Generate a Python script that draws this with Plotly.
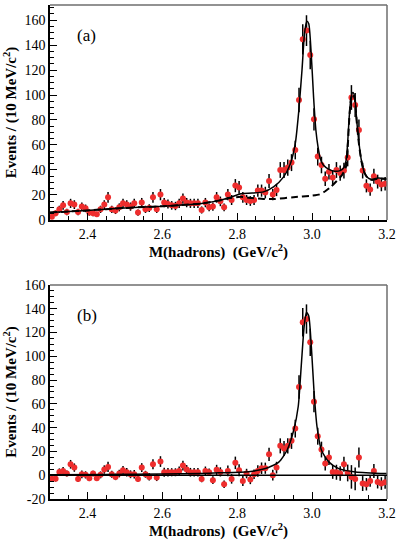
import numpy as np
import plotly.graph_objects as go

# 10 MeV bins from 2.30 to 3.20 GeV/c^2 (bin centres)
mass = np.round(np.arange(2.305, 3.2, 0.01), 3)

# (a) events per bin
events_a = [2.6, 5.3, 8.5, 11.7, 6.4, 13.3, 12.3, 6.4, 10.7, 9.3,
            5.9, 5.3, 4.5, 8.5, 12.3, 18.1, 8.5, 7.5, 10.1, 13.3,
            12.3, 10.7, 13.3, 5.9, 13.9, 8.5, 9.5, 18.1, 8.5, 20.3,
            13.9, 12.8, 11.7, 11.2, 13.3, 17.1, 13.9, 13.3, 13.3, 13.3,
            8.0, 13.9, 10.1, 10.7, 18.1, 14.9, 10.1, 20.3, 16.0, 27.5,
            26.0, 18.1, 16.0, 15.2, 16.0, 23.5, 23.5, 21.9, 31.2, 20.3,
            24.0, 40.0, 40.0, 41.9, 45.9, 56.0, 96.0, 144.5, 151.5, 132.0,
            80.5, 50.7, 44.0, 33.0, 38.5, 34.0, 40.0, 37.5, 39.5, 50.0,
            98.0, 92.0, 72.0, 39.5, 27.3, 24.3, 35.0, 30.7, 28.3, 29.0]

# (b) events after background subtraction
events_b = [-3.0, -3.0, 2.8, 3.6, 1.4, 9.2, 6.4, -3.1, 0.8, 0.3,
            -2.5, 1.4, -2.5, 0.3, 4.8, 7.0, 0.8, -1.4, 1.4, 4.2,
            2.5, 0.8, 0.8, -3.1, 6.4, 0.8, -1.4, 9.2, -2.0, 11.5,
            2.5, 2.5, 2.5, 2.5, 3.6, 8.1, 4.8, 2.5, 2.5, 2.5,
            -3.1, 3.6, 2.5, -4.2, 4.5, 2.8, -7.6, 3.6, -3.1, 10.4,
            4.2, -4.8, 1.4, -3.6, 0.8, 3.6, 5.9, 5.9, 17.6, 0.0,
            6.4, 24.7, 22.4, 24.7, 28.9, 39.2, 74.2, 128.6, 131.4, 111.8,
            61.9, 32.8, 21.6, 9.8, 14.9, 2.8, 2.5, 1.4, 9.2, 1.9,
            -1.4, -3.1, 14.9, -7.0, -7.6, -4.8, 3.6, -5.6, -7.0, -5.9]

# Poisson errors of the raw counts
err = np.sqrt(events_a)

# fitted curves
fit_a_x = [2.30, 2.35, 2.40, 2.45, 2.50, 2.55, 2.60, 2.65, 2.70, 2.75,
           2.78, 2.81, 2.84, 2.87, 2.897, 2.924, 2.942, 2.955, 2.964, 2.973,
           2.980, 2.986, 2.991, 2.997, 3.004, 3.010, 3.016, 3.022, 3.030, 3.045,
           3.060, 3.075, 3.085, 3.091, 3.095, 3.099, 3.104, 3.109, 3.114, 3.119,
           3.125, 3.132, 3.140, 3.150, 3.160, 3.175, 3.20]
fit_a_y = [6.0, 6.8, 7.6, 8.6, 9.6, 10.4, 11.0, 12.0, 13.0, 15.5,
           18.0, 21.0, 21.5, 22.5, 26.5, 34.5, 45.0, 61.0, 86.0, 120.0,
           150.0, 159.0, 157.0, 136.0, 98.0, 72.0, 58.0, 49.0, 44.0, 40.5,
           39.0, 39.5, 42.0, 48.0, 62.0, 82.0, 98.0, 102.0, 98.0, 80.0,
           62.0, 47.0, 38.0, 33.5, 32.5, 33.5, 33.0]

bkg_a_x = [2.30, 2.35, 2.40, 2.45, 2.50, 2.55, 2.60, 2.65, 2.70, 2.75,
           2.78, 2.81, 2.84, 2.87, 2.90, 2.95, 3.00, 3.02, 3.035, 3.05,
           3.065, 3.08, 3.09, 3.095, 3.099, 3.104, 3.109, 3.114, 3.119, 3.125,
           3.132, 3.140, 3.150, 3.160, 3.175, 3.20]
bkg_a_y = [6.0, 6.8, 7.6, 8.6, 9.6, 10.4, 11.0, 12.0, 13.0, 15.5,
           17.5, 18.5, 17.5, 16.8, 16.8, 18.2, 19.5, 20.5, 23.0, 26.5,
           31.0, 36.0, 42.0, 58.0, 80.0, 97.0, 101.0, 97.0, 79.0, 61.0,
           46.5, 37.5, 33.0, 32.0, 33.0, 32.8]

fit_b_x = [2.30, 2.45, 2.60, 2.70, 2.75, 2.83, 2.875, 2.911, 2.933, 2.951,
           2.963, 2.971, 2.979, 2.985, 2.991, 2.998, 3.005, 3.013, 3.025, 3.045,
           3.071, 3.116, 3.20]
fit_b_y = [0.5, 0.7, 1.0, 1.5, 2.0, 3.0, 5.6, 11.0, 21.0, 38.0,
           58.0, 92.0, 126.0, 137.0, 134.0, 108.0, 71.0, 41.0, 21.0, 11.0,
           5.6, 2.8, 1.4]

RED = "rgb(238,45,45)"
FONT = "Liberation Serif"

fig = go.Figure()


def add_panel(fig, y, xa, ya):
    fig.add_trace(go.Scatter(
        x=mass, y=y, mode="markers", xaxis=xa, yaxis=ya,
        marker=dict(color=RED, size=6),
        error_y=dict(type="data", array=err, color="black", thickness=1.5, width=0),
        showlegend=False))


add_panel(fig, events_a, "x", "y")
fig.add_trace(go.Scatter(x=bkg_a_x, y=bkg_a_y, mode="lines", xaxis="x", yaxis="y",
                         line=dict(color="black", width=2, dash="7px,4px", shape="spline",
                                   smoothing=0.6), showlegend=False))
fig.add_trace(go.Scatter(x=fit_a_x, y=fit_a_y, mode="lines", xaxis="x", yaxis="y",
                         line=dict(color="black", width=1.5, shape="spline", smoothing=0.6),
                         showlegend=False))

add_panel(fig, events_b, "x2", "y2")
fig.add_trace(go.Scatter(x=fit_b_x, y=fit_b_y, mode="lines", xaxis="x2", yaxis="y2",
                         line=dict(color="black", width=1.5, shape="spline", smoothing=0.6),
                         showlegend=False))

xcommon = dict(range=[2.3, 3.2], tickvals=[2.4, 2.6, 2.8, 3.0, 3.2],
               ticktext=["2.4", "2.6", "2.8", "3.0", "3.2"],
               ticks="inside", ticklen=7, tickwidth=1.2, tickcolor="black",
               minor=dict(dtick=0.05, tick0=2.3, ticks="inside", ticklen=4, tickcolor="black"),
               showline=True, linecolor="black", linewidth=1.5, showgrid=False, zeroline=False,
               automargin=False, ticklabeloverflow="allow",
               tickfont=dict(family=FONT, size=14, color="black"),
               title=dict(text="<b>M(hadrons)  (GeV/c<sup>2</sup>)</b>", standoff=5,
                          font=dict(family=FONT, size=15, color="black")))

ycommon = dict(ticks="inside", ticklen=7, tickwidth=1.2, tickcolor="black",
               minor=dict(dtick=5, ticks="inside", ticklen=4, tickcolor="black"),
               showline=True, linecolor="black", linewidth=1.5, showgrid=False, zeroline=False,
               automargin=False, ticklabeloverflow="allow",
               tickfont=dict(family=FONT, size=14, color="black"),
               title=dict(text="<b>Events / (10 MeV/c<sup>2</sup>)</b>", standoff=4,
                          font=dict(family=FONT, size=15, color="black")))

fig.update_layout(
    width=398, height=545,
    margin=dict(l=50, r=11, t=5, b=46, autoexpand=False),
    paper_bgcolor="white", plot_bgcolor="white",
    xaxis=dict(xcommon, anchor="y", domain=[0, 1]),
    yaxis=dict(ycommon, range=[0, 172], domain=[0.5648, 1], anchor="x",
               tickvals=[0, 20, 40, 60, 80, 100, 120, 140, 160]),
    xaxis2=dict(xcommon, anchor="y2", domain=[0, 1]),
    yaxis2=dict(ycommon, range=[-20, 160], domain=[0, 0.4332], anchor="x2",
                tickvals=[-20, 0, 20, 40, 60, 80, 100, 120, 140, 160],
                ticktext=["-20", "0", "20", "40", "60", "80", "100", "120", "140", "160"]),
)

# grey top/right frame edges and zero line
for xr, yr in [("x domain", "y domain"), ("x2 domain", "y2 domain")]:
    fig.add_shape(type="line", xref=xr, yref=yr, x0=0, x1=1, y0=1, y1=1,
                  line=dict(color="rgb(110,110,110)", width=1.5))
    fig.add_shape(type="line", xref=xr, yref=yr, x0=1, x1=1, y0=0, y1=1,
                  line=dict(color="rgb(110,110,110)", width=1.5))
fig.add_shape(type="line", xref="x2 domain", yref="y2", x0=0, x1=1, y0=0, y1=0,
              line=dict(color="black", width=1.5))

fig.add_annotation(text="(a)", xref="x domain", yref="y domain", x=0.074, y=0.912,
                   showarrow=False, font=dict(family=FONT, size=17, color="black"))
fig.add_annotation(text="(b)", xref="x2 domain", yref="y2 domain", x=0.074, y=0.913,
                   showarrow=False, font=dict(family=FONT, size=17, color="black"))

# drop the page's default body margin so the figure sits at the window corner
fig.write_html("out.html", config={"displayModeBar": False},
               post_script="document.body.style.margin='0';")
